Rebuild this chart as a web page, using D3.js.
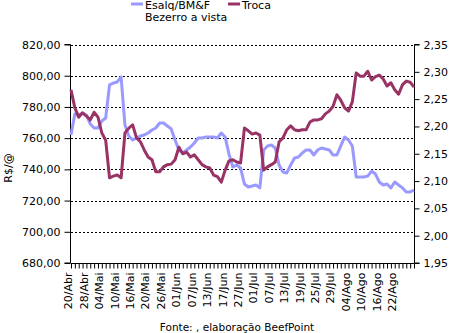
<!DOCTYPE html>
<html><head><meta charset="utf-8">
<script src="https://cdn.jsdelivr.net/npm/d3@7"></script>
<style>body{margin:0;background:#fff}svg{display:block}text{font-family:"DejaVu Sans",Verdana,sans-serif;fill:#000}</style>
</head><body><svg id="c" width="449" height="333"></svg>
<script>
const tickLabels = ["20/Abr","28/Abr","04/Mai","10/Mai","16/Mai","20/Mai","26/Mai","01/Jun","07/Jun","13/Jun","17/Jun","27/Jun","01/Jul","07/Jul","13/Jul","19/Jul","25/Jul","29/Jul","04/Ago","10/Ago","16/Ago","22/Ago"];
const labelEvery = 4;
const esalq = [762.0,775.5,774.8,776.1,774.8,769.1,766.5,766.5,771.0,772.9,794.1,795.3,796.0,799.2,768.4,761.4,758.8,760.1,761.4,762.0,763.3,765.2,766.5,769.7,769.7,767.8,765.9,758.8,752.4,750.5,752.4,754.3,756.9,760.1,760.1,760.7,760.7,760.7,760.1,763.3,760.7,749.8,741.5,742.8,740.9,730.6,728.7,729.3,730.0,728.1,752.4,755.0,755.6,753.7,742.8,738.3,737.7,742.8,747.3,747.9,750.5,752.4,752.4,749.2,752.4,753.7,753.0,752.4,749.2,749.2,755.0,760.7,758.8,755.0,735.1,735.1,735.1,735.7,738.9,737.0,731.9,730.0,730.6,728.1,731.9,730.0,728.1,725.5,725.5,726.8];
const troca = [2.267,2.234,2.217,2.225,2.219,2.212,2.226,2.217,2.188,2.175,2.106,2.109,2.111,2.106,2.188,2.197,2.203,2.179,2.172,2.157,2.144,2.139,2.117,2.117,2.126,2.130,2.131,2.139,2.162,2.150,2.153,2.144,2.148,2.139,2.130,2.126,2.124,2.111,2.108,2.098,2.120,2.137,2.139,2.135,2.133,2.197,2.192,2.186,2.188,2.184,2.120,2.126,2.130,2.135,2.172,2.179,2.194,2.201,2.194,2.192,2.194,2.194,2.208,2.212,2.212,2.214,2.223,2.228,2.237,2.258,2.248,2.234,2.228,2.245,2.298,2.292,2.292,2.301,2.285,2.291,2.294,2.287,2.274,2.280,2.267,2.259,2.276,2.283,2.281,2.272];
const leftTicks = [680,700,720,740,760,780,800,820];
const rightTicks = [1.95,2.00,2.05,2.10,2.15,2.20,2.25,2.30,2.35];
const seriesNames = ["Esalq/BM&F", "Bezerro a vista", "Troca"];
const colors = {esalq:"#9999FF", troca:"#993366"};

const svg = d3.select("#c");
const L = 71, R = 414, T = 44.5, B = 263;
const idx = d3.range(esalq.length);
const x = d3.scaleLinear().domain([0, esalq.length-1]).range([L, R]);
const yL = d3.scaleLinear().domain([680,820]).range([B,T]);
const yR = d3.scaleLinear().domain([1.95,2.35]).range([B,T]);
const fmt2 = d => d.toFixed(2).replace(".", ",");

// gridlines
svg.append("g").selectAll("line").data(leftTicks.filter(d=>d>680)).join("line")
  .attr("x1",L).attr("x2",R).attr("y1",d=>Math.round(yL(d))+0.5).attr("y2",d=>Math.round(yL(d))+0.5)
  .attr("stroke","#000").attr("stroke-dasharray","2,2");

// left axis
const gl = svg.append("g").attr("transform",`translate(${L-0.5},0)`)
  .call(d3.axisLeft(yL).tickValues(leftTicks).tickFormat(fmt2).tickSize(6).tickPadding(4));
// right axis
const gr = svg.append("g").attr("transform",`translate(${R+0.5},0)`)
  .call(d3.axisRight(yR).tickValues(rightTicks).tickFormat(fmt2).tickSize(5).tickPadding(4));
// bottom axis
const gb = svg.append("g").attr("transform",`translate(0,${B+0.5})`)
  .call(d3.axisBottom(x).tickValues(idx).tickSize(5).tickFormat(i => i % labelEvery === 0 ? (tickLabels[i/labelEvery]||"") : ""));
[gl,gr,gb].forEach(g=>{
  g.selectAll(".domain").attr("stroke","#000").attr("stroke-width",1);
  g.selectAll(".tick line").attr("stroke","#000");
  g.selectAll("text").attr("font-size","11px").attr("font-family",'"DejaVu Sans",Verdana,sans-serif');
});
gl.select(".domain").attr("d",`M-6,${T}H0V${B}H-6`);
gr.select(".domain").attr("d",`M5,${T}H0V${B}H5`);
gb.select(".domain").attr("d",`M${L},0H${R}`);
gb.selectAll(".tick text").attr("transform","rotate(-90)").attr("text-anchor","end")
  .attr("x",-9).attr("y",-3).attr("dy","0.35em").attr("dx",0);

// lines
const lineL = d3.line().x((d,i)=>x(i)).y(d=>yL(d));
const lineR = d3.line().x((d,i)=>x(i)).y(d=>yR(d));
svg.append("path").datum(esalq).attr("d",lineL).attr("fill","none").attr("stroke",colors.esalq).attr("stroke-width",3).attr("stroke-linejoin","round");
svg.append("path").datum(troca).attr("d",lineR).attr("fill","none").attr("stroke",colors.troca).attr("stroke-width",3).attr("stroke-linejoin","round");

// y title
svg.append("text").attr("transform","translate(12,168) rotate(-90)").attr("text-anchor","middle")
  .attr("font-size","11px").text("R$/@");

// legend
const lg = svg.append("g").attr("font-size","11px");
lg.append("line").attr("x1",131).attr("x2",143).attr("y1",4).attr("y2",4).attr("stroke",colors.esalq).attr("stroke-width",3);
lg.append("text").attr("x",145).attr("y",9).text(seriesNames[0]);
lg.append("text").attr("x",145).attr("y",21).text(seriesNames[1]);
lg.append("line").attr("x1",228).attr("x2",240).attr("y1",4).attr("y2",4).attr("stroke",colors.troca).attr("stroke-width",3);
lg.append("text").attr("x",242).attr("y",9).text(seriesNames[2]);

// source
svg.append("text").attr("x",237).attr("y",331).attr("text-anchor","middle").attr("font-size","10.5px")
  .text("Fonte: , elaboração BeefPoint");
</script></body></html>
